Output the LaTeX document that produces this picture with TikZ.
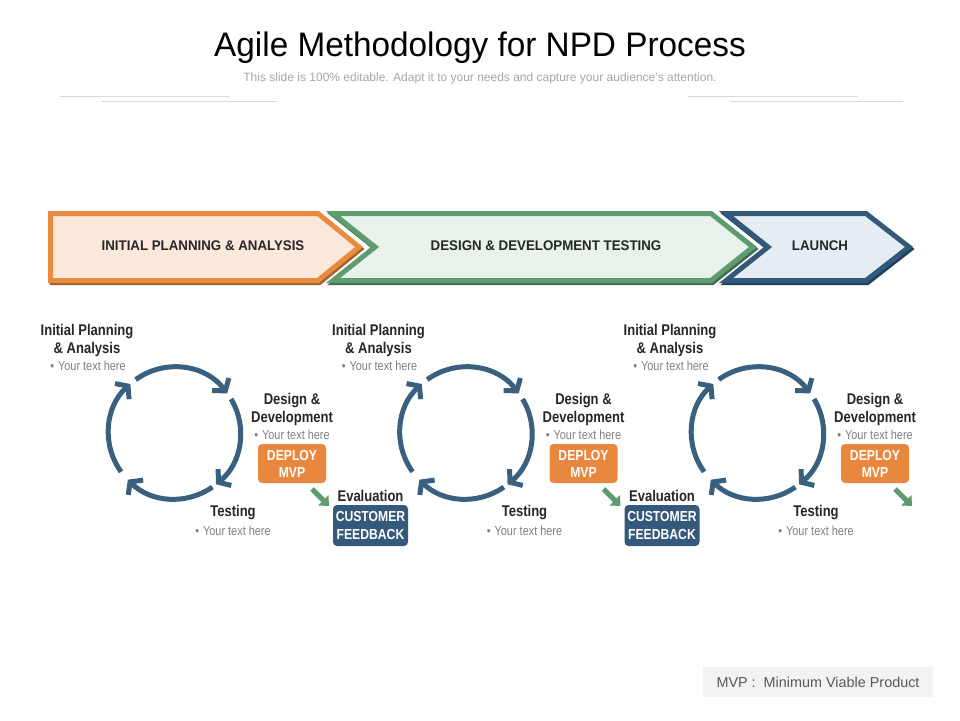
\documentclass[tikz,border=0pt]{standalone}
\usepackage{fontspec}
\setmainfont{Liberation Sans}
\newfontfamily\condf[FakeStretch=0.84]{Liberation Sans}
\newfontfamily\titlef[FakeStretch=0.98]{Liberation Sans}
\usetikzlibrary{arrows.meta,calc}

\definecolor{orgB}{HTML}{E98B3F}
\definecolor{orgF}{HTML}{FCE8DA}
\definecolor{grnB}{HTML}{5E9B6E}
\definecolor{grnF}{HTML}{E9F1EB}
\definecolor{bluB}{HTML}{32597A}
\definecolor{bluF}{HTML}{E6EDF2}
\definecolor{cycC}{HTML}{3A6080}
\definecolor{txtD}{HTML}{262626}
\definecolor{txtG}{HTML}{7F7F7F}
\definecolor{boxO}{HTML}{E9873E}
\definecolor{boxB}{HTML}{35597A}
\definecolor{arrG}{HTML}{5E9B6E}
\definecolor{lineG}{HTML}{D9D9D9}
\definecolor{subG}{HTML}{A6A6A6}
\definecolor{legF}{HTML}{F2F2F2}
\definecolor{legT}{HTML}{595959}

\tikzset{
  titletext/.style={font=\titlef\fontsize{34}{40}\selectfont, text=black, inner sep=0pt},
  subtext/.style={font=\fontsize{12}{14}\selectfont, text=subG, inner sep=0pt},
  deco/.style={draw=lineG, line width=0.8pt},
  chev/.style={line width=5pt, line join=miter},
  bantext/.style={font=\bfseries\fontsize{14}{16}\selectfont\addfontfeature{FakeStretch=0.95}, text=txtD, inner sep=0pt},
  lab/.style={font=\condf\bfseries\fontsize{15.5}{18}\selectfont, text=txtD, align=center, inner sep=0pt},
  bul/.style={font=\condf\fontsize{13}{15}\selectfont, text=txtG, inner sep=0pt},
  cycarc/.style={draw=cycC, line width=5pt, line cap=butt, -{Straight Barb[length=8pt,width=21pt]}},
  deploybox/.style={fill=boxO, rounded corners=4pt, minimum width=68pt, minimum height=39pt, inner sep=0pt, align=center, text=white, font=\condf\bfseries\fontsize{14.5}{17}\selectfont},
  custbox/.style={fill=boxB, rounded corners=4pt, minimum width=75pt, minimum height=41pt, inner sep=0pt, align=center, text=white, font=\condf\bfseries\fontsize{14.5}{18}\selectfont},
  garrow/.style={draw=arrG, line width=5pt, -{Triangle[length=8pt,width=14pt]}},
  legendbox/.style={fill=legF, minimum width=230pt, minimum height=30pt, inner sep=0pt, text=legT, font=\fontsize{14.4}{16}\selectfont}
}

\begin{document}
\begin{tikzpicture}[x=1pt,y=-1pt]
\useasboundingbox (0,0) rectangle (960,720);
\fill[white] (0,0) rectangle (960,720);

% title
\node[titletext] (title) at (480,48) {Agile Methodology for NPD Process};
\node[subtext] (sub) at (480,78) {This slide is 100\% editable. Adapt it to your needs and capture your audience's attention.};
\draw[deco] (60,96.5) -- (230,96.5);
\draw[deco] (102,101.5) -- (277,101.5);
\draw[deco] (688,96.5) -- (858,96.5);
\draw[deco] (730,101.5) -- (903,101.5);

% banner chevrons: shadows
\draw[chev, draw=orgB!70!black, shift={(1.5,2)}] (50.5,213.5) -- (318,213.5) -- (359,247) -- (318,280.5) -- (50.5,280.5) -- cycle;
\draw[chev, draw=grnB!70!black, shift={(1.5,2)}] (333,213.5) -- (711,213.5) -- (753,247) -- (711,280.5) -- (333,280.5) -- (375,247) -- cycle;
\draw[chev, draw=bluB!70!black, shift={(1.5,2)}] (726,213.5) -- (866,213.5) -- (909,247) -- (866,280.5) -- (726,280.5) -- (768,247) -- cycle;
% banner chevrons
\filldraw[chev, draw=orgB, fill=orgF] (50.5,213.5) -- (318,213.5) -- (359,247) -- (318,280.5) -- (50.5,280.5) -- cycle;
\filldraw[chev, draw=grnB, fill=grnF] (333,213.5) -- (711,213.5) -- (753,247) -- (711,280.5) -- (333,280.5) -- (375,247) -- cycle;
\filldraw[chev, draw=bluB, fill=bluF] (726,213.5) -- (866,213.5) -- (909,247) -- (866,280.5) -- (726,280.5) -- (768,247) -- cycle;

\node[bantext] (b1) at (203,246) {INITIAL PLANNING \& ANALYSIS};
\node[bantext] (b2) at (546,246) {DESIGN \& DEVELOPMENT TESTING};
\node[bantext] (b3) at (820,246) {LAUNCH};

% cycles
\foreach \i in {0,1,2}{
  \pgfmathsetmacro\dx{291.5*\i}
  \coordinate (c\i) at (174.5+\dx,433);
  \draw[cycarc] ($(c\i)+(126:66pt)$) arc[start angle=126, end angle=37, radius=66pt];
  \draw[cycarc] ($(c\i)+(31:66pt)$) arc[start angle=31, end angle=-51, radius=66pt];
  \draw[cycarc] ($(c\i)+(-55:66pt)$) arc[start angle=-55, end angle=-135, radius=66pt];
  \draw[cycarc] ($(c\i)+(-144:66pt)$) arc[start angle=-144, end angle=-228, radius=66pt];

  \node[lab] (ip\i) at (87+\dx,340) {Initial Planning\\\& Analysis};
  \node[bul] (ipt\i) at (88+\dx,366) {•\hspace{4pt}Your text here};
  \node[lab] (dd\i) at (292+\dx,409) {Design \&\\Development};
  \node[bul] (ddt\i) at (292+\dx,435) {•\hspace{4pt}Your text here};
  \node[deploybox] (dep\i) at (292+\dx,463.5) {DEPLOY\\MVP};
  \node[lab] (ts\i) at (233+\dx,513) {Testing};
  \node[bul] (tst\i) at (233+\dx,531) {•\hspace{4pt}Your text here};

  \coordinate (ga\i) at (312+\dx,489);
  \coordinate (gb\i) at (329+\dx,506);
  \draw[garrow] (ga\i) -- (gb\i);
  \ifnum\i<2
    \node[lab] (ev\i) at (370.5+\dx,496) {Evaluation};
    \node[custbox] (cf\i) at (370.5+\dx,525.5) {CUSTOMER\\FEEDBACK};
  \fi
}

% legend
\node[legendbox] (leg) at (818,682) {MVP :~~Minimum Viable Product};
\end{tikzpicture}
\end{document}
